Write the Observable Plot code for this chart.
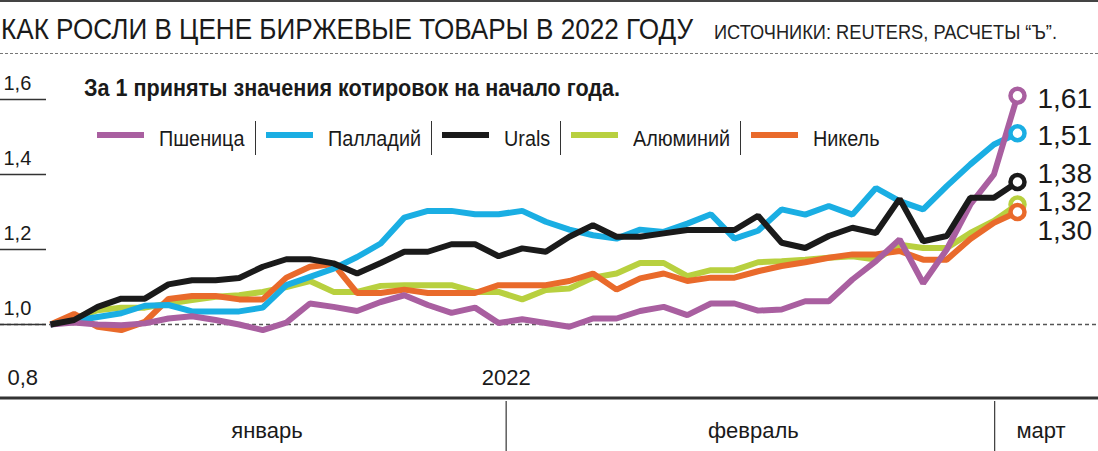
<!DOCTYPE html>
<html><head><meta charset="utf-8">
<script src="https://cdn.jsdelivr.net/npm/d3@7"></script>
<script src="https://cdn.jsdelivr.net/npm/@observablehq/plot@0.6"></script>
<style>
body{margin:0;background:#fff;}
#wrap{position:relative;width:1098px;height:451px;overflow:hidden;font-family:"Liberation Sans",Arial,sans-serif;color:#1a1a1a;}
#wrap svg{position:absolute;left:0;top:0;}
.topline{position:absolute;left:0;top:0;width:1098px;height:1.5px;background:#444;}
.title{position:absolute;left:1px;top:15px;font-size:29px;line-height:29px;white-space:nowrap;}
.source{position:absolute;left:714px;top:22px;font-size:20px;line-height:20px;white-space:nowrap;color:#222;}
.dash{position:absolute;left:0;top:53px;width:1098px;border-top:1px dashed #777;}
.subtitle{position:absolute;left:84px;top:77px;font-size:23px;line-height:23px;font-weight:bold;white-space:nowrap;}
.legend{position:absolute;left:97px;top:121px;height:34px;display:flex;align-items:center;font-size:22px;line-height:22px;white-space:nowrap;}
.legend .sw{width:47px;height:6px;margin-right:15px;position:relative;top:-3px;}
.legend .lab{display:inline-block;transform-origin:0 50%;position:relative;top:1px;}
.legend .bar{width:1px;height:34px;background:#333;margin:0 10px;}
</style></head><body><div id="wrap"></div><script>
const FONT = '"Liberation Sans",Arial,sans-serif';

// ---- data ----
const titleText = "КАК РОСЛИ В ЦЕНЕ БИРЖЕВЫЕ ТОВАРЫ В 2022 ГОДУ";
const sourceText = "ИСТОЧНИКИ: REUTERS, РАСЧЕТЫ “Ъ”.";
const subtitleText = "За 1 приняты значения котировок на начало года.";
const days = d3.range(42); // trading days from the start of 2022
const seriesNames = ["Пшеница", "Палладий", "Urals", "Алюминий", "Никель"];
const seriesColors = ["#a95fa0", "#1aaee3", "#1a1a1a", "#b8d03f", "#e96a2b"];
const wheat = [1.0,1.005,1.0,0.998,1.003,1.016,1.022,1.012,1.0,0.985,1.005,1.056,1.047,1.036,1.06,1.078,1.052,1.031,1.045,1.004,1.014,1.004,0.994,1.016,1.016,1.036,1.047,1.025,1.056,1.056,1.037,1.04,1.062,1.062,1.12,1.169,1.227,1.11,1.2,1.32,1.4,1.61];
const palladium = [1.0,1.01,1.02,1.03,1.05,1.052,1.035,1.035,1.035,1.045,1.105,1.127,1.149,1.18,1.216,1.285,1.303,1.303,1.294,1.294,1.303,1.274,1.253,1.238,1.229,1.253,1.247,1.269,1.294,1.229,1.25,1.307,1.293,1.316,1.293,1.364,1.329,1.307,1.369,1.427,1.48,1.51];
const urals = [1.0,1.012,1.047,1.069,1.069,1.107,1.118,1.118,1.124,1.154,1.174,1.174,1.163,1.136,1.164,1.194,1.194,1.214,1.214,1.182,1.203,1.194,1.234,1.265,1.234,1.234,1.243,1.252,1.252,1.252,1.29,1.218,1.204,1.236,1.258,1.244,1.335,1.222,1.236,1.338,1.338,1.38];
const aluminium = [1.0,1.016,1.038,1.045,1.045,1.056,1.065,1.074,1.078,1.087,1.1,1.116,1.087,1.087,1.103,1.105,1.105,1.105,1.087,1.087,1.067,1.092,1.096,1.125,1.136,1.164,1.164,1.129,1.145,1.145,1.166,1.169,1.173,1.178,1.182,1.173,1.213,1.204,1.204,1.244,1.276,1.32];
const nickel = [1.0,1.028,0.994,0.985,1.007,1.068,1.076,1.076,1.067,1.067,1.125,1.154,1.161,1.084,1.084,1.093,1.084,1.084,1.084,1.105,1.105,1.105,1.116,1.136,1.093,1.123,1.136,1.116,1.125,1.125,1.142,1.156,1.166,1.178,1.187,1.187,1.196,1.173,1.173,1.228,1.271,1.30];
const seriesValues = [wheat, palladium, urals, aluminium, nickel];
const drawOrder = ["Алюминий", "Никель", "Палладий", "Пшеница", "Urals"];
const yTicksUpper = [1.0, 1.2, 1.4, 1.6];
const yTickLow = [0.8];
const baseline = [1.0];
const months = ["январь", "февраль", "март"];
const monthCenters = [9.18, 29.8, 42.0];   // in trading-day units
const monthBounds = [19.32, 40.03];
const yearLabel = ["2022"];
const yearAt = [19.32];

// ---- build ----
const fmt = v => d3.format(".1f")(v).replace(".", ",");
const fmt2 = v => d3.format(".2f")(v).replace(".", ",");
const long = [];
seriesNames.forEach((name, s) => seriesValues[s].forEach((v, i) => long.push({name, day: days[i], value: v})));
const lastIdx = days.length - 1;
const ends = seriesNames.map((name, s) => ({name, day: days[lastIdx], value: seriesValues[s][lastIdx]}));

// simple label de-overlap in value space
function dodge(items, gap) {
  const sorted = items.slice().sort((a, b) => b.value - a.value);
  let groups = sorted.map(d => ({m: [d]}));
  const center = g => d3.mean(g.m, d => d.value);
  let changed = true;
  while (changed) {
    changed = false;
    for (let k = 0; k < groups.length - 1; k++) {
      const a = groups[k], b = groups[k + 1];
      const aBottom = center(a) - (a.m.length - 1) * gap / 2;
      const bTop = center(b) + (b.m.length - 1) * gap / 2;
      if (aBottom - bTop < gap) { groups.splice(k, 2, {m: a.m.concat(b.m)}); changed = true; break; }
    }
  }
  const out = [];
  groups.forEach(g => { const c = center(g); g.m.forEach((d, j) => out.push({...d, ly: c + ((g.m.length - 1) / 2 - j) * gap})); });
  return out;
}
const endLabels = dodge(ends, 0.075);

const marks = [
  Plot.ruleY(baseline, {stroke: "#555", strokeWidth: 1.3, strokeDasharray: "4,3", insetLeft: -50, insetRight: -81}),
  Plot.ruleY(yTicksUpper, {stroke: "#333", strokeWidth: 1.3, insetLeft: -50, insetRight: 971}),
  Plot.ruleY(yTickLow, {stroke: "#333", strokeWidth: 3, dy: -1.5, insetLeft: -50, insetRight: -81}),
  Plot.ruleX(monthBounds, {stroke: "#444", strokeWidth: 1.3, insetTop: 302, insetBottom: -52}),
  Plot.text(yTicksUpper, {y: d => d, frameAnchor: "left", dx: -47, dy: -16, text: fmt, textAnchor: "start", fontSize: 20, fill: "#1a1a1a"}),
  Plot.text(yTickLow, {y: d => d, frameAnchor: "left", dx: -43, dy: -22, text: fmt, textAnchor: "start", fontSize: 22, fill: "#1a1a1a"}),
  Plot.text(yearLabel, {x: yearAt, y: yTickLow, dy: -22, text: d => d, fontSize: 22, fill: "#1a1a1a"}),
  Plot.text(months, {x: monthCenters, y: [0.8, 0.8, 0.8], dy: 31, text: d => d, fontSize: 22, fill: "#1a1a1a"})
];
drawOrder.forEach(name => {
  marks.push(Plot.line(long.filter(d => d.name === name), {x: "day", y: "value", stroke: "name", strokeWidth: 6, strokeLinejoin: "miter", strokeLinecap: "butt"}));
});
marks.push(Plot.dot(ends, {x: "day", y: "value", r: 7, fill: "white", stroke: "name", strokeWidth: 4.5}));
marks.push(Plot.text(endLabels, {x: "day", y: "ly", text: d => fmt2(d.value), dx: 20, dy: 3, textAnchor: "start", fontSize: 28, fill: "#1a1a1a"}));

const chart = Plot.plot({
  width: 1098, height: 451,
  marginTop: 99, marginBottom: 52, marginLeft: 50, marginRight: 81,
  x: {domain: [0, 41], axis: null},
  y: {domain: [0.8, 1.6], axis: null},
  color: {domain: seriesNames, range: seriesColors},
  style: {fontFamily: FONT, background: "transparent", overflow: "visible"},
  marks
});

const wrap = d3.select("#wrap");
wrap.node().appendChild(chart);
wrap.append("div").attr("class", "topline");
function fitWidth(sel, target) {
  const w = sel.node().getBoundingClientRect().width;
  sel.style("transform-origin", "0 0").style("transform", `scaleX(${target / w})`);
}
fitWidth(wrap.append("div").attr("class", "title").text(titleText), 692);
fitWidth(wrap.append("div").attr("class", "source").text(sourceText), 343);
wrap.append("div").attr("class", "dash");
fitWidth(wrap.append("div").attr("class", "subtitle").text(subtitleText), 536);
const lg = wrap.append("div").attr("class", "legend");
seriesNames.forEach((n, i) => {
  if (i > 0) lg.append("div").attr("class", "bar");
  lg.append("div").attr("class", "sw").style("background", seriesColors[i]);
  const lab = lg.append("span").attr("class", "lab").text(n);
  const w = lab.node().getBoundingClientRect().width;
  const k = 0.9;
  lab.style("transform", `scaleX(${k})`).style("margin-right", `${-(1 - k) * w}px`);
});
</script></body></html>
